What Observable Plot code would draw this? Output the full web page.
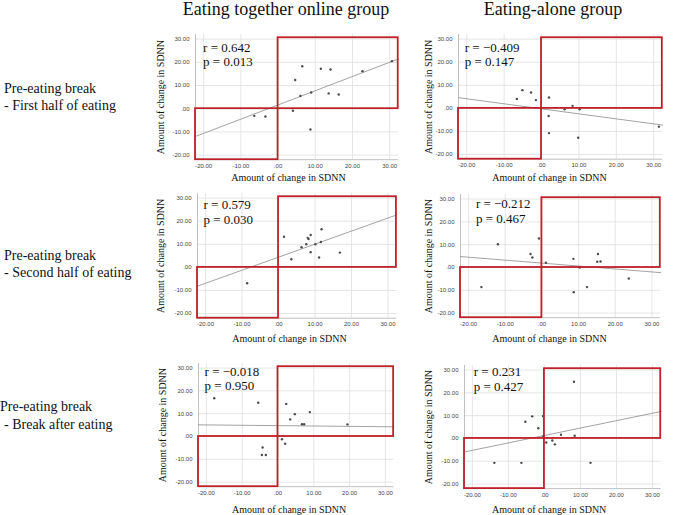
<!DOCTYPE html>
<html><head><meta charset="utf-8">
<script src="https://cdn.jsdelivr.net/npm/d3@7"></script>
<script src="https://cdn.jsdelivr.net/npm/@observablehq/plot@0.6"></script>
<style>
body{margin:0;background:#fff;}
#page{position:relative;width:685px;height:515px;background:#fff;overflow:hidden;font-family:"Liberation Serif","Times New Roman",serif;color:#111;}
.title{position:absolute;font-size:18px;line-height:18px;white-space:nowrap;transform:translateX(-50%);}
.row{position:absolute;font-size:14px;line-height:17.5px;white-space:nowrap;}
.panel{position:absolute;}
</style></head><body><div id="page"></div>
<script>
// ---- data ----
const columnTitles = ["Eating together online group", "Eating-alone group"];
const rowLabels = [
  ["Pre-eating break", "- First half of eating"],
  ["Pre-eating break", "- Second half of eating"],
  ["Pre-eating break", "- Break after eating"]
];
const axisTitle = "Amount of change in SDNN";
const xTicks = [-20, -10, 0, 10, 20, 30];
const yTicks = [-20, -10, 0, 10, 20, 30];
const xDomain = [-22.2, 32.4];
const yDomain = [-22, 32];

const togetherFirstX = [-6.4, -3.4, 4.0, 4.6, 6.5, 6.0, 8.9, 8.7, 11.5, 14.1, 13.6, 16.3, 22.7, 30.6];
const togetherFirstY = [-3.1, -3.4, -0.9, 12.4, 18.3, 5.5, 7.0, -9.0, 17.2, 16.9, 6.6, 6.1, 16.2, 20.5];
const aloneFirstX = [-6.6, -5.1, -2.8, -1.5, 2.0, 1.9, 2.0, 6.2, 8.3, 10.2, 9.8, 31.4];
const aloneFirstY = [4.1, 7.9, 6.9, 3.6, 4.7, -3.3, -10.7, -0.4, 1.1, -0.4, -12.7, -7.9];
const togetherSecondX = [-8.6, 1.5, 3.5, 6.3, 7.6, 8.0, 8.2, 8.8, 8.8, 10.1, 11.1, 11.6, 11.8, 16.8];
const togetherSecondY = [-6.9, 13.3, 3.5, 8.7, 10.0, 12.8, 12.3, 14.0, 6.6, 10.0, 4.3, 11.0, 16.5, 6.4];
const aloneSecondX = [-16.5, -12.0, -3.1, -2.6, -0.8, 1.1, 8.6, 8.7, 10.3, 12.3, 15.3, 15.1, 16.0, 23.7];
const aloneSecondY = [-8.6, 10.2, 5.9, 4.4, 12.7, 2.1, 3.8, -10.8, 0.0, -8.6, 5.9, 2.5, 2.6, -4.8];
const togetherAfterX = [-17.8, -5.5, -4.3, -4.5, -3.4, 1.1, 2.0, 2.3, 3.4, 4.7, 6.7, 7.3, 8.9, 19.4];
const togetherAfterY = [16.8, 14.8, -4.8, -8.1, -8.1, -1.2, -3.2, 14.3, 7.5, 9.8, 5.4, 5.4, 10.7, 5.3];
const aloneAfterX = [-13.9, -6.4, -5.3, -3.4, -1.7, -0.4, -0.3, 0.5, 2.2, 2.9, 4.6, 8.2, 8.4, 12.8];
const aloneAfterY = [-10.7, -10.7, 7.3, 9.7, 4.5, 9.8, 1.0, -1.8, -0.9, -2.6, 1.6, 24.9, 1.2, -10.7];

const rValues = ["0.642", "\u22120.409", "0.579", "\u22120.212", "\u22120.018", "0.231"];
const pValues = ["0.013", "0.147", "0.030", "0.467", "0.950", "0.427"];
const fitIntercepts = [1.63, -0.19, 4.43, 1.93, 4.76, 1.30];
const fitSlopes = [0.613, -0.2175, 0.565, -0.129, -0.0158, 0.3255];
const redBoxes = [
  {x1: -22.2, x2: 0, y1: -22, y2: 0},
  {x1: 0, x2: 32.3, y1: 0, y2: 30.6}
];

// ---- layout (pixel frames of each panel's data area) ----
const layout = [
  {L:195.1, R:398.2, T:34.0,  B:159.2, yl:35,   xl:93, xb:18,   tx:7.6,  ty:11.7},
  {L:458.0, R:662.2, T:33.8,  B:158.5, yl:30,   xl:91, xb:18.5, tx:6.3,  ty:11.9},
  {L:196.7, R:396.0, T:192.8, B:317.5, yl:36.5, xl:92, xb:20.5, tx:6.0,  ty:10.5},
  {L:460.3, R:660.5, T:193.7, B:316.9, yl:32,   xl:89, xb:21,   tx:15.4, ty:8.6},
  {L:198.2, R:393.7, T:363.0, B:486.2, yl:35.5, xl:90.6,xb:23.1, tx:6.1, ty:7.0},
  {L:464.0, R:660.6, T:365.4, B:488.5, yl:35.7, xl:84.7,xb:20.8, tx:9.3, ty:5.6}
];
const serif = '"Liberation Serif","Times New Roman",serif';
const sans = '"Liberation Sans",Arial,sans-serif';
const fmt = d => d === 0 ? ".00" : d.toFixed(2);

const series = [
  [togetherFirstX, togetherFirstY], [aloneFirstX, aloneFirstY],
  [togetherSecondX, togetherSecondY], [aloneSecondX, aloneSecondY],
  [togetherAfterX, togetherAfterY], [aloneAfterX, aloneAfterY]
];

const page = document.getElementById("page");

// column titles
[[286, 0], [553, 0]].forEach(([cx, top], i) => {
  const el = document.createElement("div");
  el.className = "title";
  el.style.left = cx + "px"; el.style.top = top + "px";
  el.textContent = columnTitles[i];
  page.appendChild(el);
});
// row labels
[[4, 79.5], [4, 246.5], [0, 398]].forEach(([x, y], i) => {
  const el = document.createElement("div");
  el.className = "row";
  el.style.left = x + "px"; el.style.top = y + "px";
  el.innerHTML = `<div>${rowLabels[i][0]}</div><div style="padding-left:${i === 2 ? 4 : 0}px">${rowLabels[i][1]}</div>`;
  page.appendChild(el);
});

series.forEach(([xs, ys], k) => {
  const lay = layout[k];
  const ml = 48, mr = 10, mt = 8, mb = 32;
  const w = lay.R - lay.L, h = lay.B - lay.T;
  const pts = xs.map((x, i) => ({x, y: ys[i]}));
  const fit = xDomain.map(x => ({x, y: fitIntercepts[k] + fitSlopes[k] * x}));
  const svg = Plot.plot({
    width: w + ml + mr, height: h + mt + mb,
    marginLeft: ml, marginRight: mr, marginTop: mt, marginBottom: mb,
    x: {domain: xDomain}, y: {domain: yDomain},
    style: {fontFamily: sans, background: "transparent", overflow: "visible"},
    marks: [
      Plot.gridX(xTicks, {stroke: "#dedede", strokeOpacity: 1, strokeWidth: 0.8}),
      Plot.gridY(yTicks, {stroke: "#dedede", strokeOpacity: 1, strokeWidth: 0.8}),
      Plot.ruleX([xDomain[0]], {stroke: "#b0b0b0", strokeWidth: 0.8}),
      Plot.ruleY([yDomain[0]], {stroke: "#b0b0b0", strokeWidth: 0.8}),
      Plot.line(fit, {x: "x", y: "y", stroke: "#8c8c8c", strokeWidth: 0.8}),
      Plot.dot(pts, {x: "x", y: "y", r: 1.2, fill: "#4a4a4a"}),
      Plot.rect(redBoxes, {x1: "x1", x2: "x2", y1: "y1", y2: "y2", fill: "none", stroke: "#c0202a", strokeWidth: 1.8}),
      Plot.axisX({ticks: xTicks, tickSize: 0, tickPadding: 4, tickFormat: fmt, fontSize: 6, fill: "#444", label: null}),
      Plot.axisY({ticks: yTicks, tickSize: 0, tickPadding: 6, tickFormat: fmt, fontSize: 6, fill: "#444", label: null}),
      Plot.text([axisTitle], {frameAnchor: "left", rotate: -90, dx: -lay.yl, fontFamily: serif, fontSize: 10, fill: "#111", textAnchor: "middle", lineAnchor: "middle"}),
      Plot.text([axisTitle], {frameAnchor: "bottom-left", dx: lay.xl, dy: lay.xb, fontFamily: serif, fontSize: 10, fill: "#111", textAnchor: "middle", lineAnchor: "middle"}),
      Plot.text([`r = ${rValues[k]}\np = ${pValues[k]}`], {frameAnchor: "top-left", dx: lay.tx, dy: lay.ty - 5, fontFamily: serif, fontSize: 13, fill: "#111", textAnchor: "start", lineAnchor: "top", lineHeight: 1.12})
    ]
  });
  svg.classList.add("panel");
  svg.style.left = (lay.L - ml) + "px";
  svg.style.top = (lay.T - mt) + "px";
  page.appendChild(svg);
});
</script></body></html>
